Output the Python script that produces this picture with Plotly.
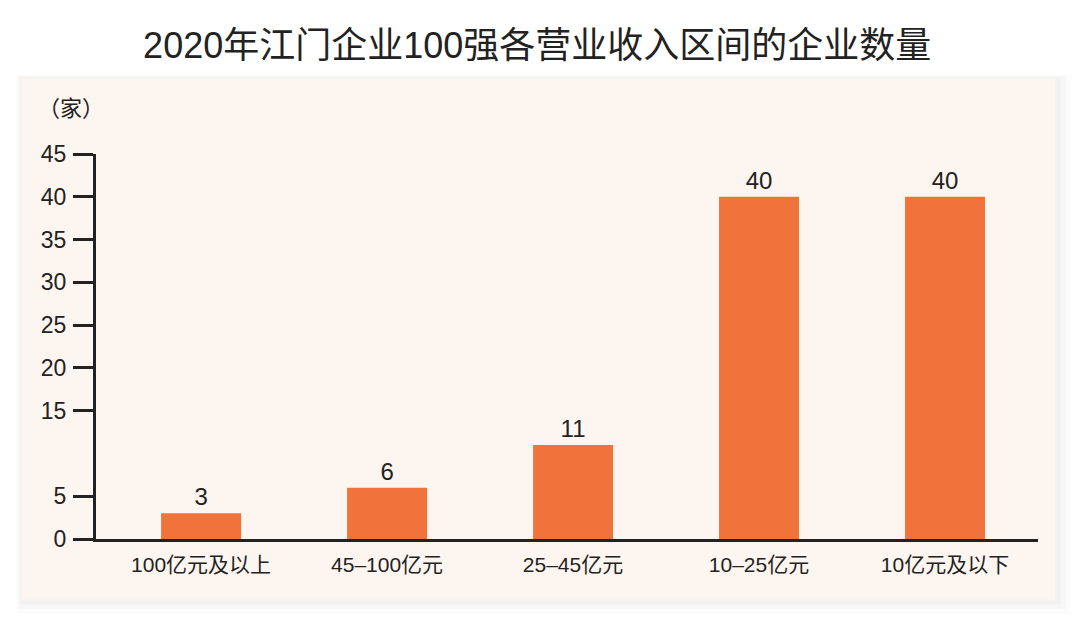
import plotly.graph_objects as go

# 营业收入区间 / 企业数量（家）
categories = ['100亿元及以上', '45–100亿元', '25–45亿元', '10–25亿元', '10亿元及以下']
counts = [3, 6, 11, 40, 40]
# the original axis shows no "10" label
y_ticks = [0, 5, 15, 20, 25, 30, 35, 40, 45]

font_main = 'Liberation Sans, Noto Sans CJK SC, sans-serif'
ink = '#222222'

fig = go.Figure()
fig.add_trace(go.Bar(
    x=list(range(len(categories))), y=counts,
    width=0.43,
    marker=dict(color='#F0733C', line=dict(width=0)),
    text=counts, textposition='outside',
    textfont=dict(size=24, color=ink, family=font_main),
    cliponaxis=False,
    hovertemplate='%{customdata}: %{y}家<extra></extra>',
    customdata=categories,
))

# background panel + soft shadow (paper coords relative to plot area)
px0, px1, py0, py1 = -0.0786, 1.018, -0.158, 1.197
shapes = []
for i, op in enumerate([0.012, 0.018, 0.025]):
    d = (3 - i) * 0.004
    shapes.append(dict(type='rect', xref='paper', yref='paper', layer='below',
                       x0=px0 - d * 0.5, x1=px1 + d * 1.5,
                       y0=py0 - d * 3.0, y1=py1 + d * 0.8,
                       fillcolor='rgba(0,0,0,%s)' % op, line=dict(width=0)))
shapes.append(dict(type='rect', xref='paper', yref='paper', layer='below',
                   x0=px0, x1=px1, y0=py0, y1=py1,
                   fillcolor='#FDF5EF', line=dict(width=0)))

fig.update_layout(
    width=1080, height=619,
    margin=dict(l=88, r=50, t=146, b=88),
    paper_bgcolor='white', plot_bgcolor='rgba(0,0,0,0)',
    showlegend=False,
    font=dict(family=font_main, color=ink),
    title=dict(text='2020年江门企业100强各营业收入区间的企业数量',
               x=0.49, xanchor='center', y=1 - 37 / 619, yanchor='middle',
               font=dict(size=36, color=ink, family=font_main)),
    shapes=shapes,
    annotations=[dict(text='（家）', xref='paper', yref='paper',
                      x=-0.064, y=1.155, showarrow=False,
                      font=dict(size=22, color=ink, family=font_main))],
)
fig.update_xaxes(
    range=[-0.565, 4.5], tickvals=list(range(len(categories))), ticktext=categories,
    showline=True, linecolor=ink, linewidth=3, ticks='', showgrid=False,
    zeroline=False, tickfont=dict(size=21, color=ink), ticklabelstandoff=5,
    fixedrange=True,
)
fig.update_yaxes(
    range=[0, 45], tickvals=y_ticks, ticktext=[str(v) for v in y_ticks],
    showline=True, linecolor=ink, linewidth=3, ticks='outside', ticklen=20,
    tickwidth=3, tickcolor=ink, showgrid=False, zeroline=False,
    tickfont=dict(size=23, color=ink), ticklabelstandoff=2, fixedrange=True,
)

fig.write_html('out.html')
